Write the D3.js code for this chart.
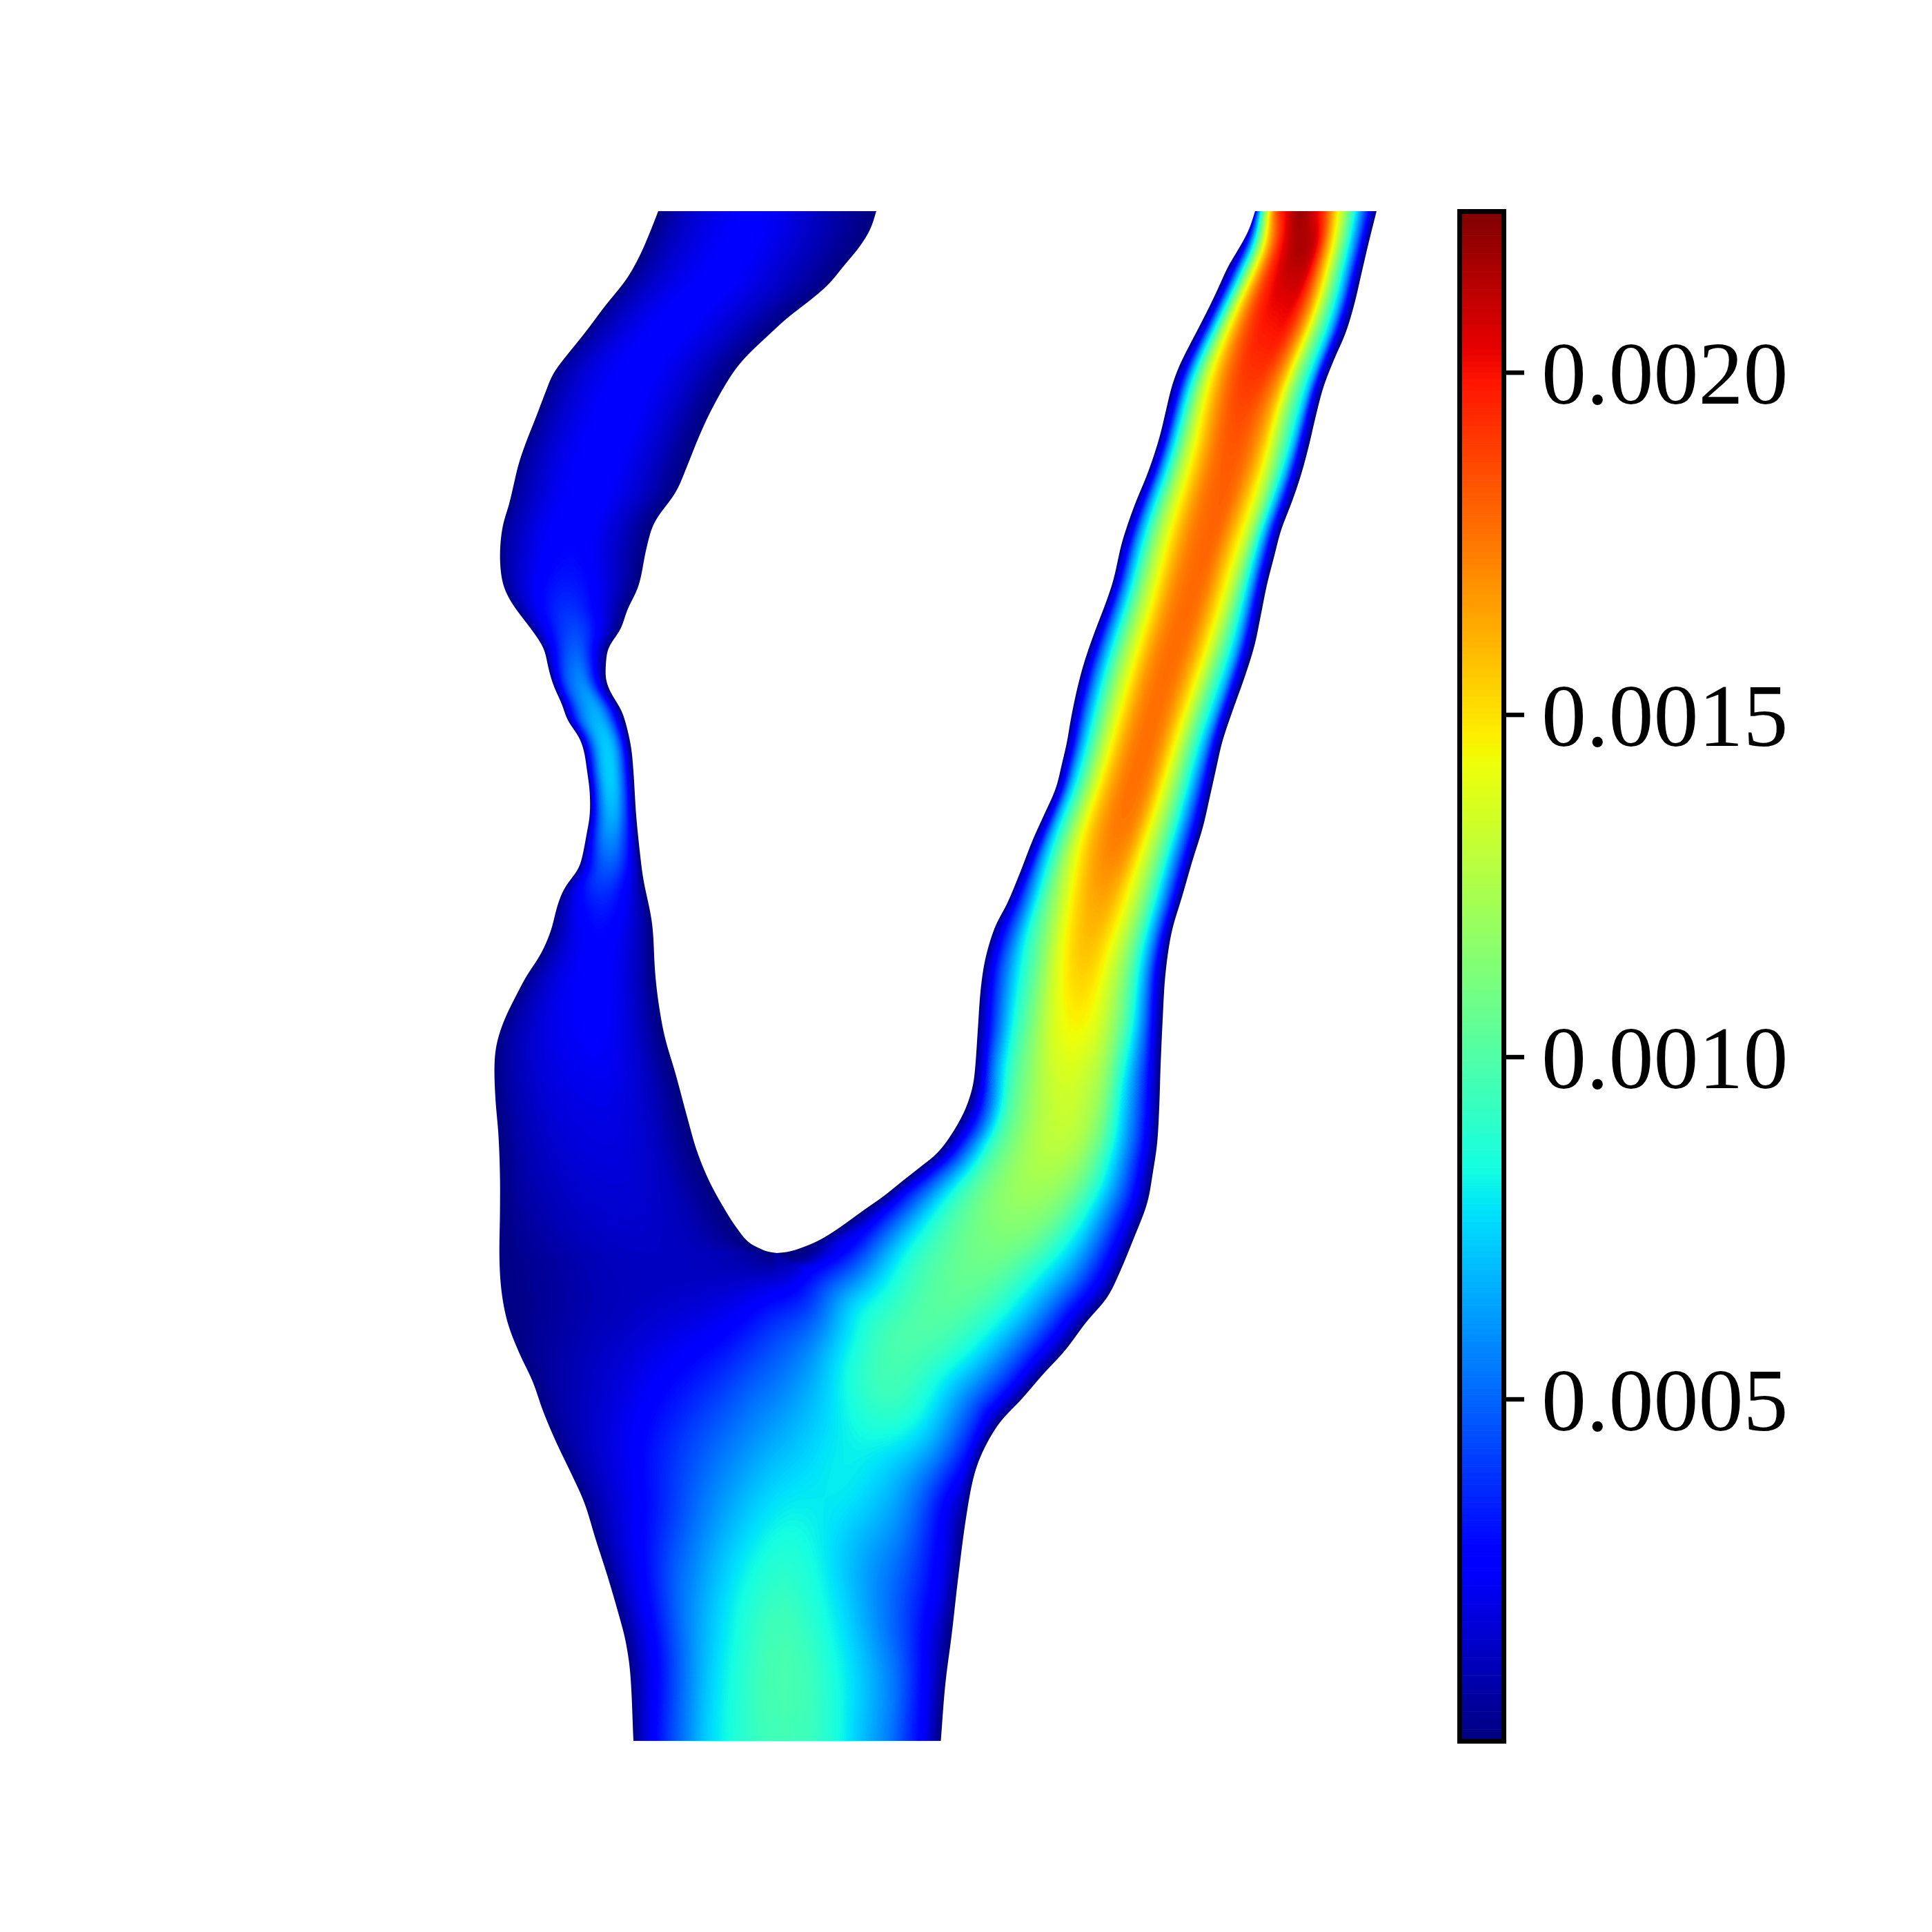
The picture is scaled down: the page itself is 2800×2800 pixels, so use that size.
<!DOCTYPE html>
<html>
<head>
<meta charset="utf-8">
<style>
html,body{margin:0;padding:0;background:#fff;}
#wrap{position:relative;width:2800px;height:2800px;}
canvas,svg{position:absolute;left:0;top:0;}
</style>
<script src="https://cdn.jsdelivr.net/npm/d3@7"></script>
</head>
<body>
<div id="wrap"><canvas id="field" width="2800" height="2800"></canvas><svg id="chart" width="2800" height="2800"></svg></div>
<script>
// ---- colour range and colour bar ticks
const valueMax = 0.002235;
const colorBarTicks = [0.0005, 0.0010, 0.0015, 0.0020];
const fieldUnit = 1e-4;

// ---- vessel walls in figure units: [height along the figure, lateral position]
const outerLeftWall = [[306,954],[339,941],[373,926],[406,907],[442,878],[482,848],[518,819],[541,802],[566,791.5],[604,777],[642,762],[673,751.5],[709,743],[734,737],[756,730],[785,725.5],[819,725],[850,730],[876,743],[904,764],[926,780],[942,789],[967,794.5],[993,802],[1022,815],[1045,823],[1066,838],[1087,846],[1115,850.5],[1148,854.7],[1182,854.7],[1207,850.5],[1241,844],[1260,838],[1277,825],[1289,817],[1312,808],[1350,798],[1384,783],[1413,764],[1439,750],[1478,731],[1512,720],[1543,716.6],[1592,718],[1645,722.4],[1704,724.6],[1757,724.6],[1824,723.8],[1873,727],[1918,736],[1962,753],[2002,772],[2045,787],[2090,806],[2138,829],[2178,847],[2230,863],[2286,881],[2341,897],[2378,906.6],[2426,913.5],[2523,918]];
const outerRightWall = [[306,1995],[354,1983],[397,1973],[440,1963],[483,1950],[522,1933],[561,1918],[604,1906.7],[647,1896.7],[690,1885],[729,1871.7],[768,1856.7],[805,1847],[848,1836],[893,1827],[936,1818],[982,1803.6],[1032,1785.7],[1075,1771.4],[1114,1762.5],[1154,1753.6],[1200,1743],[1246,1728.6],[1300,1713],[1351,1698],[1412,1689],[1478,1685],[1545,1682],[1606,1680],[1657,1677],[1698,1671],[1744,1662.5],[1795,1643],[1848,1621],[1882,1603.6],[1915,1575],[1958,1543],[1989,1514],[2030,1478.6],[2060,1450],[2100,1426],[2138,1411.7],[2200,1400],[2286,1388.7],[2367,1379.5],[2441,1370],[2523,1363.5]];
const leftBranchInnerWall = [[306,1270],[333,1261],[360,1244],[385,1223],[413,1200],[440,1168],[459,1143],[486,1113.5],[518,1080],[545,1059],[594,1031],[634,1012.5],[676,995.6],[714,979],[756,949],[794,937],[840,928],[858,922],[883,909.4],[913,899],[938,882],[967,877.8],[988,878.7],[1009,888],[1030,901],[1077,913.6],[1115,917.8],[1182,922],[1241,928],[1275,932.5],[1338,945],[1409,949.4],[1454,954.5],[1503,963.5],[1556,979],[1623,997],[1668,1010],[1712,1028],[1753,1050.5],[1780,1068],[1801,1086],[1812,1107],[1814.5,1116],[1816,1126]];
const rightBranchInnerWall = [[306,1819],[333,1810],[358,1796.7],[386,1780],[415,1766.7],[444,1753],[476,1736.7],[508,1720],[533,1708],[561,1698],[594,1690],[629,1681.7],[658,1673],[690,1661.7],[726,1646.7],[758,1635],[790,1625],[839,1614],[871,1603.6],[918,1585.7],[961,1571],[1000,1560.7],[1043,1551.8],[1075,1546.4],[1107,1539],[1143,1530],[1179,1514],[1218,1496.4],[1264,1478.6],[1311,1459],[1341,1443],[1387,1428.6],[1433,1421.4],[1494,1417],[1545,1413.5],[1573,1410],[1600,1402],[1620,1393],[1640,1381.5],[1661,1367],[1676,1353],[1688,1338],[1710,1310],[1734,1280],[1753,1253],[1783,1211],[1799,1184],[1810,1157],[1814.5,1140],[1816,1126]];
const trunkDivider = 1126;

// ---- field readings (units of 1e-4), by section, at fractional stations across each block
const stations = [0,.05,.1,.2,.3,.4,.5,.6,.7,.8,.9,.95,1];
const leftBlockLevels = [306,450,600,800,880,940,1000,1060,1110,1180,1240,1290,1350,1480,1600,1700,1816,1850,1900,2000,2100,2200,2300,2420,2523];
const leftBlockValues = [
[0,.5,1,1.7,2.2,2.5,2.4,2,1.4,.9,.4,.2,0],
[0,.7,1.1,1.8,2.3,2.6,2.6,2.2,1.7,1.2,.6,.3,0],
[0,.7,1.1,1.8,2.3,2.6,2.7,2.4,1.9,1.3,.6,.3,0],
[0,.7,1.1,1.8,2.4,2.7,2.8,2.6,2,1.4,.7,.3,0],
[0,.8,1.4,2.3,3.1,3.6,3.7,3.4,2.7,1.8,.9,.4,0],
[0,1,1.8,3,4,4.6,4.8,4.5,3.6,2.5,1.2,.6,0],
[0,1.2,2.2,3.8,5,5.6,6,5.9,4.9,3.4,1.6,.8,0],
[0,1.4,2.6,4.5,5.9,6.7,7,6.8,5.9,4.2,2,1,0],
[0,1.5,2.8,4.8,6.4,7.2,7.4,7.1,6,4.3,2.1,1,0],
[0,1.4,2.6,4.5,5.9,6.6,6.7,6.4,5.3,3.9,2,1,0],
[0,1.1,2,3.5,4.6,5.1,5.2,4.9,4.1,3,1.6,.8,0],
[0,.8,1.4,2.5,3.3,3.7,3.8,3.6,3,2.2,1.2,.6,0],
[0,.6,1,1.8,2.3,2.7,2.8,2.6,2.2,1.6,.9,.4,0],
[0,.5,.9,1.5,2,2.3,2.5,2.6,2.3,1.7,.9,.4,0],
[0,.4,.8,1.3,1.7,1.9,2,2,1.8,1.4,.7,.3,0],
[0,.3,.7,1.1,1.4,1.6,1.7,1.7,1.5,1.2,.6,.3,0],
[0,.2,.4,.7,1,1.2,1.3,1.3,1.2,1,.6,.3,0],
[0,.15,.3,.6,.9,1.1,1.2,1.2,1.2,1.2,1.2,1.3,1.3],
[0,.15,.3,.6,.9,1.1,1.3,1.5,1.7,2,2.6,3.1,3.7],
[0,.4,.7,1.1,1.5,1.9,2.4,2.9,3.4,4,4.8,5,5.2],
[0,.6,1,1.6,2.2,2.9,3.6,4.3,5,5.6,6.2,6.5,6.8],
[0,.7,1.2,2,2.8,3.7,4.6,5.5,6.3,7,7.6,7.9,8.1],
[0,.8,1.5,2.6,3.8,5,5.9,6.8,7.6,8.3,8.8,9,9.1],
[0,.9,1.6,2.9,4.3,5.6,6.8,7.7,8.4,9,9.5,9.7,9.7],
[0,1,1.9,3.4,4.7,6,7.2,8,8.6,9.1,9.4,9.5,9.5]
];
// each right-block section runs from the inner boundary at one level to the outer wall at another
const rightBlockInnerLevels = [306,360,450,600,760,1000,1200,1340,1400,1500,1560,1601,1637,1667,1693,1718,1741,1764,1792,1816,1900,2000,2100,2200,2300,2420,2523];
const rightBlockOuterLevels = [306,360,450,600,760,1000,1200,1340,1400,1500,1590,1680,1745,1810,1860,1900,1935,1970,2010,2060,2130,2200,2260,2320,2375,2450,2523];
const rightBlockValues = [
[0,6,11,18,20.5,21.8,21,19,15,10.5,5.5,3,0],
[0,3,7.2,14.5,19,21,21.5,20.5,16,11,5.8,2.8,0],
[0,2.8,7,14,18,19.8,20.2,20,17,11.8,6.6,2.8,0],
[0,2.9,7,12.6,16,18,18.6,18,15.9,11.5,7,2.7,0],
[0,3,6.5,11.5,14.8,17,17.9,17.8,15.8,12.5,6.5,2.8,0],
[0,2.9,6,10.8,14.3,16.8,17.7,17.2,14.8,10.8,6.5,2.8,0],
[0,3,6.7,11.2,14.8,16.8,17.5,16.8,13.8,10.2,5.5,2.8,0],
[0,2.5,4.5,8.8,11.8,14.5,15.9,15.8,14,10.9,6.3,3.3,0],
[0,2.3,4.5,8,10.8,13.6,15.3,15.3,13.5,10.6,6,2.7,0],
[0,2.2,4.6,8.7,11.3,13.4,14.3,14.1,12.6,9.8,5.5,2.7,0],
[0,2.5,5.8,9.6,11.6,13,13.4,12.9,11.5,7.8,4.2,2.2,0],
[0,2,4.3,9.3,11.5,12.7,13.1,12.6,10.7,7.6,4.2,2.2,0],
[0,2.2,4.8,9.2,11.3,12.4,12.5,11.8,9.8,6.9,3.5,1.7,0],
[0,2.7,5.2,9.5,11.3,12.1,12,11.3,9.7,6.8,3.9,2.1,0],
[0,2.6,5.2,9.4,11,11.5,11.4,10.8,8.5,6.6,3.4,1.9,0],
[0,2.7,5,8.5,10,10.9,11,10.4,8.3,6.5,3.5,1.9,0],
[0,2.3,4.4,8,9.7,10.6,10.8,10.3,8.6,6.6,3.6,1.9,0],
[0,1.8,3.4,6.9,9.1,10,10.5,10.1,8.8,6.6,3.7,1.9,0],
[0,1.9,3.1,6.2,8.8,9.8,10.3,10,8.6,6.7,3.9,2,0],
[0,.5,1.8,4,6.8,8.5,9.8,9.7,8.9,6.9,4.5,2.6,0],
[3.7,4,4.5,6,7.8,9,9.5,9.4,8.4,6.7,4.2,2.7,0],
[5.2,5.7,6.3,7,7.8,8.2,8.1,7.4,6.3,4.5,2.3,1.2,0],
[6.8,7,7.3,7.7,8.1,8,7.3,6.6,5.6,3.9,2.4,1.3,0],
[8.1,8.3,8.4,8.2,7.7,7,6.3,5.6,4.8,3.6,2.4,1.2,0],
[9.1,9.2,9.1,8.7,8.1,7.4,6.5,5.6,4.6,3.4,1.8,.9,0],
[9.7,9.8,9.7,9.4,8.8,8.1,7.3,6.4,5.4,3.9,2.2,1.1,0],
[9.5,9.6,9.5,9.4,8.9,8.2,7.2,6.3,5.3,3.8,2.3,1.1,0]
];

// ---- figure geometry
const frame = {size:2800, barLeft:2115.5, barRight:2179.5, barTop:306.5, barBottom:2523.5};
const x = d3.scaleLinear().domain([0,frame.size]).range([0,frame.size]);
const y = d3.scaleLinear().domain([0,frame.size]).range([0,frame.size]);
const valueToBar = d3.scaleLinear().domain([0,valueMax]).range([frame.barBottom,frame.barTop]);
const valueToUnit = d3.scaleLinear().domain([0,valueMax]).range([0,1]).clamp(true);

// matplotlib "jet"
const jetR = d3.scaleLinear().domain([0,.35,.66,.89,1]).range([0,0,255,255,127.5]).clamp(true);
const jetG = d3.scaleLinear().domain([0,.125,.375,.64,.91,1]).range([0,0,255,255,0,0]).clamp(true);
const jetB = d3.scaleLinear().domain([0,.11,.34,.65,1]).range([127.5,255,255,0,0]).clamp(true);
const levels = 256;
const lut = d3.range(levels).map(i => { const f=(i+.5)/levels; return [jetR(f),jetG(f),jetB(f)]; });

// smooth curve through readings (cubic Hermite with chord tangents)
function smooth(xs, ys){
  const n=xs.length, m=new Array(n);
  for(let i=0;i<n;i++){
    const a=Math.max(0,i-1), b=Math.min(n-1,i+1);
    m[i]=(ys[b]-ys[a])/(xs[b]-xs[a]);
  }
  return v=>{
    if(v<=xs[0]) return ys[0];
    if(v>=xs[n-1]) return ys[n-1];
    const i=Math.min(n-2,d3.bisectRight(xs,v)-1);
    const h=xs[i+1]-xs[i], t=(v-xs[i])/h, t2=t*t, t3=t2*t;
    return (2*t3-3*t2+1)*ys[i]+(t3-2*t2+t)*h*m[i]+(-2*t3+3*t2)*ys[i+1]+(t3-t2)*h*m[i+1];
  };
}
const yA=outerLeftWall[0][0], yB=outerLeftWall[outerLeftWall.length-1][0];
const rawWall = w => smooth(w.map(d=>d[0]), w.map(d=>d[1]));
const meanOver = (f,c,W) => { if(W<=0) return f(c); let s=0; for(let i=-3;i<=3;i++) s+=f(c+i*W/3); return s/7; };
const windowed = (f,widthAt) => v => meanOver(f,v,widthAt(v));
const outerWindow = v => Math.max(0,Math.min(10,v-yA,yB-v));
const innerWindow = v => Math.max(0,Math.min(v-yA, v<1500 ? 10 : (v<1740 ? 10*(1740-v)/240 : 0)));
const wOL=windowed(rawWall(outerLeftWall),outerWindow);
const wOR=windowed(rawWall(outerRightWall),outerWindow);
const wIL=windowed(rawWall(leftBranchInnerWall),innerWindow);
const wIR=windowed(rawWall(rightBranchInnerWall),innerWindow);
const crotch = leftBranchInnerWall[leftBranchInnerWall.length-1][0];
const leftEdge  = v => v>=crotch ? trunkDivider : wIL(v);
const rightEdge = v => v>=crotch ? trunkDivider : wIR(v);
const outerLevelAt = smooth(rightBlockInnerLevels, rightBlockOuterLevels);

// readings are lightly averaged along the vessel, except at the walls next to the crotch
const alongWindow = q => q<450 ? 10 : (q<700 ? 10+20*(q-450)/250 : 30);
const columnSplines = (ls, rows, keepAtCrotch) => stations.map((_,j)=>{
  const f=smooth(ls, rows.map(r=>r[j]));
  const near=keepAtCrotch.includes(j);
  return q=> (near && q>1700 && q<1900) ? f(q) : meanOver(f,q,alongWindow(q));
});

// interior sections of the right branch do not follow small wall wiggles
const calm = q => q<1300 ? 60 : (q<1500 ? 60*(1500-q)/200 : 0);
const ramp = (v,a,b) => Math.max(0,Math.min(1,(v-a)/(b-a)));

const blocks = [
  {a:q=>[wOL(q),q], c:q=>[leftEdge(q),q], cols:columnSplines(leftBlockLevels,leftBlockValues,[11,12]), shift:()=>[0,0],
   blend:(q,t)=>ramp(q,1820,1870)*(1-ramp(q,2200,2350))*ramp(t,.45,.75)},
  {a:q=>[rightEdge(q),q], c:q=>{const o=outerLevelAt(q);return [wOR(o),o];}, cols:columnSplines(rightBlockInnerLevels,rightBlockValues,[0,1]),
   shift:q=>{const W=calm(q); if(W<=0) return [0,0]; return [meanOver(rightEdge,q,W)-rightEdge(q), meanOver(wOR,q,W)-wOR(q)];},
   blend:(q,t)=>{const e=ramp(q,1620,1720)*(1-ramp(q,2200,2350)); const wallL = q<1816 ? ramp(t,.04,.16) : 1; return e*wallL*(1-ramp(t,.84,.96));}}
];

// ---- lay the field on a pixel grid by walking each block section by section
const N=frame.size;
const field=new Float32Array(N*N).fill(-1), blendW=new Float32Array(N*N);
const put=(p,r,v,w)=>{ if(p<0||r<0||p>=N||r>=N) return; const k=r*N+p; field[k]=v; blendW[k]=w; };
for(const b of blocks){
  let q=yA-1;
  while(q<=yB+1){
    const qc=Math.max(yA,Math.min(yB,q));
    const A=b.a(qc), C=b.c(qc);
    const A2=b.a(qc+.1), C2=b.c(qc+.1);
    const speed=Math.max(Math.hypot(A2[0]-A[0],A2[1]-A[1]),Math.hypot(C2[0]-C[0],C2[1]-C[1]))/.1;
    const dq=Math.max(.02,Math.min(.5,.6/Math.max(speed,.001)));
    const profile=smooth(stations,b.cols.map(f=>f(qc)));
    const sh=b.shift(qc);
    const width=Math.hypot(C[0]-A[0],C[1]-A[1]);
    const nt=Math.max(2,Math.ceil(width/.6));
    const ext=8;
    for(let i=-ext;i<=nt+ext;i++){
      const t=i/nt, tc=Math.max(0,Math.min(1,t));
      const bump=Math.sqrt(Math.sin(Math.PI*tc));
      const cx=A[0]+(C[0]-A[0])*t+bump*(sh[0]*(1-tc)+sh[1]*tc);
      const cy=A[1]+(C[1]-A[1])*t+(q-qc);
      const v=Math.max(0,profile(tc));
      const w=b.blend(qc,tc);
      const p0=Math.floor(x(cx)-.5), r0=Math.floor(y(cy)-.5);
      put(p0,r0,v,w);put(p0+1,r0,v,w);put(p0,r0+1,v,w);put(p0+1,r0+1,v,w);
    }
    q+=dq;
  }
}

// soften the junction, where the two blocks and the fan of sections meet
(function(){
  const x0=900,x1=1700,y0=1650,y1=2420,W=x1-x0,H=y1-y0,r=18;
  let a=new Float32Array(W*H), w=new Float32Array(W*H);
  for(let j=0;j<H;j++)for(let i=0;i<W;i++){const v=field[(j+y0)*N+i+x0]; if(v>=0){a[j*W+i]=v;w[j*W+i]=1;}}
  const boxH=(s)=>{const o=new Float32Array(W*H);for(let j=0;j<H;j++){let sum=0;for(let i=-r;i<=r;i++)sum+=s[j*W+Math.max(0,Math.min(W-1,i))];for(let i=0;i<W;i++){o[j*W+i]=sum/(2*r+1);sum+=s[j*W+Math.min(W-1,i+r+1)]-s[j*W+Math.max(0,i-r)];}}return o;};
  const boxV=(s)=>{const o=new Float32Array(W*H);for(let i=0;i<W;i++){let sum=0;for(let j=-r;j<=r;j++)sum+=s[Math.max(0,Math.min(H-1,j))*W+i];for(let j=0;j<H;j++){o[j*W+i]=sum/(2*r+1);sum+=s[Math.min(H-1,j+r+1)*W+i]-s[Math.max(0,j-r)*W+i];}}return o;};
  for(let n=0;n<3;n++){a=boxV(boxH(a));w=boxV(boxH(w));}
  for(let j=0;j<H;j++)for(let i=0;i<W;i++){
    const k=(j+y0)*N+i+x0, m=blendW[k];
    if(field[k]>=0&&m>0&&w[j*W+i]>0) field[k]=field[k]*(1-m)+m*a[j*W+i]/w[j*W+i];
  }
})();

// ---- colour the grid through the colour scale
const canvas=document.getElementById('field'), ctx=canvas.getContext('2d');
const off=document.createElement('canvas'); off.width=off.height=N;
const octx=off.getContext('2d');
const img=octx.createImageData(N,N), px=img.data;
for(let k=0;k<field.length;k++){
  if(field[k]<0) continue;
  const c=lut[Math.min(levels-1,Math.floor(valueToUnit(field[k]*fieldUnit)*levels))];
  px[k*4]=c[0];px[k*4+1]=c[1];px[k*4+2]=c[2];px[k*4+3]=255;
}
octx.putImageData(img,0,0);

// outline of the vessel
const sample=(fn,a,b)=>{const o=[];const s=a<b?.5:-.5;for(let v=a;(s>0?v<b:v>b);v+=s)o.push([x(fn(v)),y(v)]);o.push([x(fn(b)),y(b)]);return o;};
const outline=[...sample(wOL,yA,yB),...sample(wOR,yB,yA),...sample(wIR,yA,crotch),...sample(wIL,crotch,yA)];
const pathGen=d3.line().context(ctx);
ctx.save();
ctx.beginPath();
pathGen(outline);
ctx.closePath();
ctx.clip();
ctx.drawImage(off,0,0);
ctx.restore();

// ---- colour bar
const svg=d3.select('#chart');
const bar=svg.append('g');
const binEdges=d3.range(levels+1).map(i=>valueMax*i/levels);
bar.selectAll('rect.bin').data(d3.range(levels)).join('rect')
  .attr('class','bin')
  .attr('x',frame.barLeft)
  .attr('width',frame.barRight-frame.barLeft)
  .attr('y',i=>valueToBar(binEdges[i+1]))
  .attr('height',i=>valueToBar(binEdges[i])-valueToBar(binEdges[i+1])+.6)
  .attr('fill',i=>`rgb(${lut[i].map(Math.round).join(',')})`);
bar.append('rect')
  .attr('x',frame.barLeft).attr('y',frame.barTop)
  .attr('width',frame.barRight-frame.barLeft).attr('height',frame.barBottom-frame.barTop)
  .attr('fill','none').attr('stroke','#000').attr('stroke-width',7);
const axis=d3.axisRight(valueToBar).tickValues(colorBarTicks).tickFormat(d3.format('.4f')).tickSize(26).tickPadding(25);
const gAxis=svg.append('g').attr('transform',`translate(${frame.barRight+3.5},0)`).call(axis);
gAxis.select('.domain').remove();
gAxis.selectAll('.tick line').attr('stroke','#000').attr('stroke-width',6.5);
gAxis.selectAll('.tick text')
  .attr('fill','#000')
  .attr('font-family','"Liberation Serif",serif')
  .attr('font-size',130)
  .attr('dy','.345em');
</script>
</body>
</html>
